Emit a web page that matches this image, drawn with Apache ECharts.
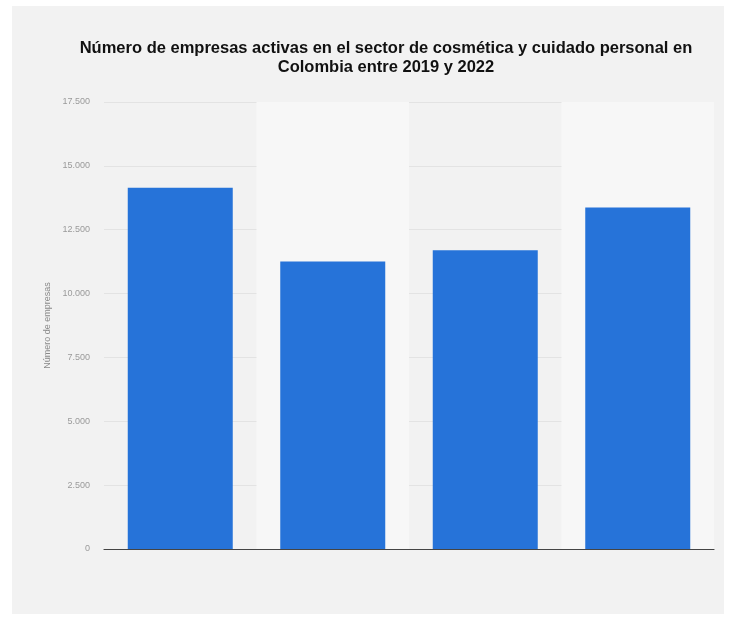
<!DOCTYPE html>
<html>
<head>
<meta charset="utf-8">
<script src="https://cdn.jsdelivr.net/npm/echarts@6/dist/echarts.min.js"></script>
<style>
html,body{margin:0;padding:0;background:#ffffff;}
#chart{width:730px;height:620px;}
</style>
</head>
<body>
<div id="chart"></div>
<script>
var titleText = 'Número de empresas activas en el sector de cosmética y cuidado personal en\nColombia entre 2019 y 2022';
var categories = ['2019', '2020', '2021', '2022'];
var empresas = [14140, 11260, 11700, 13370];
var yAxisName = 'Número de empresas';
var yMax = 17500;
var yStep = 2500;

function fmt(v) {
  return String(v).replace(/\B(?=(\d{3})+(?!\d))/g, '.');
}

var chart = echarts.init(document.getElementById('chart'), null, {renderer: 'canvas'});
chart.setOption({
  backgroundColor: '#ffffff',
  animation: false,
  graphic: [{
    type: 'rect', z: -10, silent: true,
    shape: {x: 12, y: 6, width: 712, height: 608},
    style: {fill: '#f2f2f2'}
  }],
  title: {
    text: titleText,
    left: 381, top: 34, textAlign: 'center',
    textStyle: {fontFamily: 'Liberation Sans, Arial, sans-serif', fontSize: 16.5, fontWeight: 'bold', color: '#111', lineHeight: 19}
  },
  grid: {left: 104, right: 16, top: 102, bottom: 71},
  xAxis: {
    type: 'category', data: categories,
    axisLine: {show: true, lineStyle: {color: '#444', width: 1.2}},
    axisTick: {show: false},
    axisLabel: {show: false},
    splitArea: {show: true, areaStyle: {color: ['rgba(0,0,0,0)', '#f7f7f7']}}
  },
  yAxis: {
    type: 'value', min: 0, max: yMax, interval: yStep,
    name: yAxisName, nameLocation: 'middle', nameGap: 52, nameRotate: 90,
    nameTextStyle: {fontFamily: 'Liberation Sans, Arial, sans-serif', fontSize: 9, color: '#8a8a8a'},
    axisLine: {show: false}, axisTick: {show: false},
    axisLabel: {formatter: fmt, margin: 14, fontFamily: 'Liberation Sans, Arial, sans-serif', fontSize: 9, color: '#9a9a9a'},
    splitLine: {lineStyle: {color: '#e3e3e3', width: 1}}
  },
  series: [{
    type: 'bar', data: empresas, barWidth: 105,
    itemStyle: {color: '#2673d9'}
  }]
});
</script>
</body>
</html>
